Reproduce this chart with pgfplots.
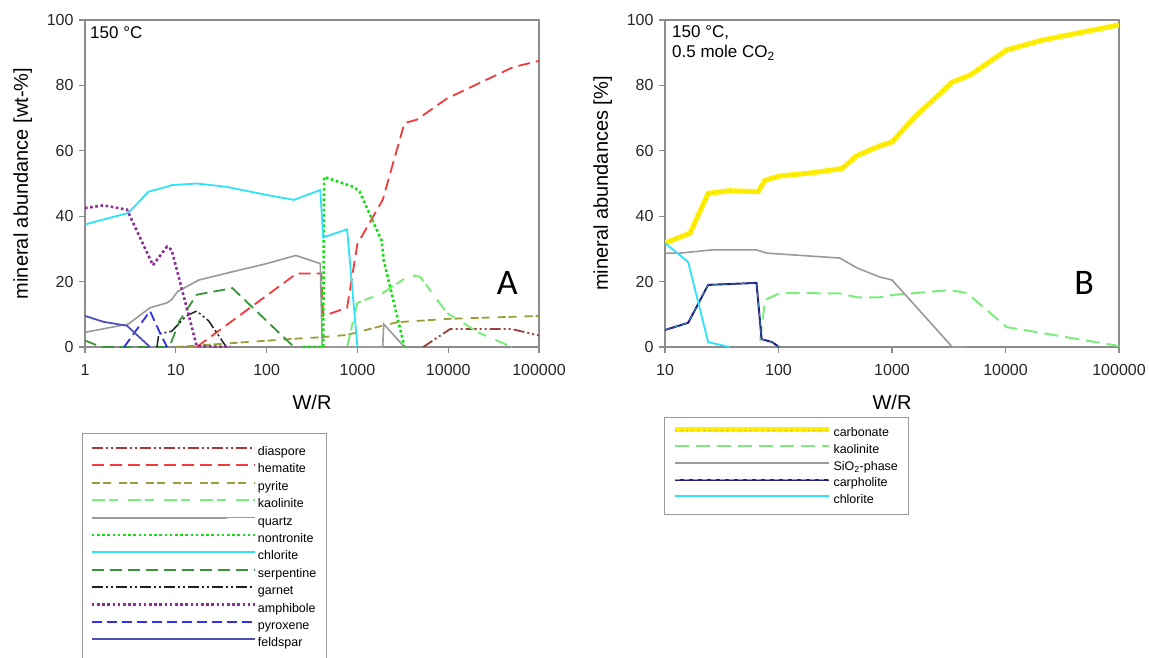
\documentclass[border=0pt]{standalone}
\usepackage{fontspec}
\setmainfont{Liberation Sans}
\newfontfamily\panelfont{Carlito}
\usepackage{pgfplots}
\pgfplotsset{compat=1.18}

\definecolor{cdiaspore}{HTML}{A03C3C}
\definecolor{chematite}{HTML}{F03C3C}
\definecolor{cpyrite}{HTML}{9C9C3A}
\definecolor{ckaolinite}{HTML}{7CEC7C}
\definecolor{cquartz}{HTML}{999999}
\definecolor{cnontronite}{HTML}{10E010}
\definecolor{cchlorite}{HTML}{30E2F8}
\definecolor{cserpentine}{HTML}{389438}
\definecolor{cgarnet}{HTML}{202020}
\definecolor{camphibole}{HTML}{8E2C98}
\definecolor{cpyroxene}{HTML}{3030F0}
\definecolor{cfeldspar}{HTML}{5050B8}
\definecolor{ccarbonate}{HTML}{FFEE00}
\definecolor{ccarpholite}{HTML}{20207E}

\tikzset{dashdotdot/.style={dash pattern=on 11pt off 3pt on 2pt off 3pt on 2pt off 3pt}}

\pgfplotsset{
  every axis/.append style={
    scale only axis, width=454pt, height=327pt,
    xmode=log, xmax=100000, ymin=0, ymax=100,
    ytick={0,20,40,60,80,100},
    xminorticks=false,
    xtick pos=bottom, ytick pos=left,
    axis line style={draw=gray!90, line width=1.6pt},
    tick style={draw=gray!90, line width=1.2pt},
    tick align=outside, major tick length=6pt,
    ticklabel style={font=\fontsize{16}{18}\selectfont, text=black!85},
    xticklabel style={yshift=-8pt},
    yticklabel style={xshift=-2pt},
    /pgf/number format/assume math mode=true,
    label style={font=\fontsize{20}{22}\selectfont},
    xlabel={W/R},
    legend cell align=left,
  },
  every axis x label/.style={at={(axis description cs:0.5,-0.168)}, anchor=center},
  every axis y label/.style={at={(axis description cs:-0.137,0.5)}, anchor=center, rotate=90},
}

\begin{document}
\begin{tikzpicture}
\useasboundingbox (0,0) rectangle (1149pt,657pt);

% ---------------- panel A ----------------
\begin{axis}[at={(85pt,310pt)}, anchor=south west,
  xmin=1,
  xtick={1,10,100,1000,10000,100000},
  xticklabels={1,10,100,1000,10000,100000},
  ylabel={mineral abundance [wt-\%]},
  legend style={at={(axis description cs:-0.0066,-0.263)}, anchor=north west,
    draw=gray!80, line width=0.8pt, font=\fontsize{12.5}{14}\selectfont,
    inner xsep=8pt, inner ysep=10pt, row sep=2.4pt,
    nodes={text height=12pt, text depth=3pt, inner ysep=0pt}},
  legend image code/.code={\draw[line width=2pt,#1] (0pt,3pt) -- (135pt,3pt); \path (0pt,3pt) -- (163pt,3pt);},
]
\addplot[cdiaspore, line width=1.8pt, dashdotdot] coordinates {
  (5300,0) (10500,5.5) (50000,5.5) (100000,3.5)};
\addlegendentry{diaspore}
\addplot[chematite, line width=1.8pt, dash pattern=on 12pt off 6pt] coordinates {
  (17,0) (215,22.5) (400,22.5) (420,9.5) (770,12) (1000,31.5) (1900,45)
  (3300,68.5) (4500,69.5) (9700,76) (22000,80.7) (52000,85.6) (100000,87.5)};
\addlegendentry{hematite}
\addplot[cpyrite, line width=1.8pt, dash pattern=on 8pt off 3pt on 8pt off 8pt] coordinates {
  (10,0) (110,2) (195,2.5) (400,3) (770,3.7) (2000,6.7) (2800,7.6) (10000,8.6) (100000,9.5)};
\addlegendentry{pyrite}
\addplot[ckaolinite, line width=2pt, dash pattern=on 13pt off 4pt on 9pt off 10pt] coordinates {
  (770,0) (1000,13.5) (1900,16.5) (3800,22) (4900,21.5) (9700,10.4) (22000,4.3) (50000,0)};
\addlegendentry{kaolinite}
\addplot[cquartz, line width=1.6pt] coordinates {
  (1,4.5) (3,7) (5.2,12) (8,13.5) (9,14.5) (10.5,17) (18,20.5) (42,23) (100,25.5)
  (210,28) (390,25.5) (410,0) (1900,0) (1950,7) (3300,0)};
\addlegendentry{quartz}
\addplot[cnontronite, line width=2.6pt, dash pattern=on 2.6pt off 2.6pt] coordinates {
  (250,0) (420,0) (430,52) (900,49) (1060,47.5) (1850,32.5) (1950,26.5) (3300,0)};
\addlegendentry{nontronite}
\addplot[cchlorite, line width=1.8pt] coordinates {
  (1,37.5) (3,41) (5,47.5) (8,49) (9,49.5) (17,50) (36,49) (100,46.5) (200,45)
  (390,48) (420,33.5) (770,36) (1000,0)};
\addlegendentry{chlorite}
\addplot[cserpentine, line width=1.8pt, dash pattern=on 12pt off 6pt] coordinates {
  (1,2) (1.5,0) (8.5,0) (11,8) (17,16) (42,18) (200,0)};
\addlegendentry{serpentine}
\addplot[cgarnet, line width=1.5pt, dashdotdot] coordinates {
  (6.2,0) (6.5,4) (9,4.8) (13,9.5) (17,11) (23,8) (36,0)};
\addlegendentry{garnet}
\addplot[camphibole, line width=2.6pt, dash pattern=on 2.6pt off 2.6pt] coordinates {
  (1,42.5) (1.6,43.3) (2.9,42) (5.6,25) (8,30.7) (9,29.7) (17,0.3) (40,0)};
\addlegendentry{amphibole}
\addplot[cpyroxene, line width=1.8pt, dash pattern=on 10pt off 5pt] coordinates {
  (2.7,0) (5.2,11) (6.7,4.3) (8,0)};
\addlegendentry{pyroxene}
\addplot[cfeldspar, line width=1.8pt] coordinates {
  (1,9.5) (1.6,7.7) (2.9,6.5) (5.2,0)};
\addlegendentry{feldspar}

\node[anchor=west, inner sep=0pt, font=\fontsize{17}{19}\selectfont]
  at (axis description cs:0.011,0.96) {150 °C};
\node[font=\panelfont\fontsize{36}{40}\selectfont]
  at (axis description cs:0.930,0.196) {A};
\end{axis}

% ---------------- panel B ----------------
\begin{axis}[at={(665pt,310pt)}, anchor=south west,
  xmin=10,
  xtick={10,100,1000,10000,100000},
  xticklabels={10,100,1000,10000,100000},
  ylabel={mineral abundances [\%]},
  legend style={at={(axis description cs:-0.002,-0.214)}, anchor=north west,
    draw=gray!80, line width=0.8pt, font=\fontsize{12.5}{14}\selectfont,
    inner xsep=8pt, inner ysep=8.5pt, row sep=2.6pt,
    nodes={text height=11pt, text depth=3pt, inner ysep=0pt}},
  legend image code/.code={\draw[line width=2pt,#1] (0pt,3pt) -- (130pt,3pt); \path (0pt,3pt) -- (154pt,3pt);},
]
\addplot[ccarbonate, line width=5pt,
  postaction={draw=ccarbonate!70!black, line width=0.5pt, dash pattern=on 0.8pt off 5pt}] coordinates {
  (10,31.8) (16.6,34.8) (24,47) (37,47.8) (66,47.5) (76,51) (103,52.3) (202,53.3)
  (363,54.6) (490,58.5) (780,61.5) (1000,62.7) (1590,70.4) (3400,81) (4900,83.2)
  (10200,90.8) (21400,93.9) (100000,98.5)};
\addlegendentry{carbonate}
\addplot[ckaolinite, line width=2pt, dash pattern=on 14pt off 7pt] coordinates {
  (69,2) (76,14.4) (103,16.5) (347,16.4) (490,15.2) (780,15.2) (1000,15.9)
  (3240,17.4) (4570,16.5) (10200,6.1) (100000,0.3)};
\addlegendentry{kaolinite}
\addplot[cquartz, line width=1.6pt] coordinates {
  (10,28.7) (13.5,28.7) (26,29.7) (64,29.7) (79,28.7) (347,27.2) (490,24.2)
  (780,21.4) (1000,20.5) (3400,0) (4500,0)};
\addlegendentry{SiO\textsubscript{2}-phase}
\addplot[ccarpholite, line width=2pt,
  postaction={draw=cchlorite!60!gray, line width=0.5pt, dash pattern=on 5pt off 4pt}] coordinates {
  (10,5.2) (16,7.4) (24,19) (64,19.6) (71,2.4) (88,1.5) (101,0)};
\addlegendentry{carpholite}
\addplot[cchlorite, line width=1.8pt] coordinates {
  (10,31.8) (16,26) (24,1.5) (37,0)};
\addlegendentry{chlorite}

\node[anchor=west, inner sep=0pt, font=\fontsize{17}{19}\selectfont]
  at (axis description cs:0.0154,0.96) {150 °C,};
\node[anchor=west, inner sep=0pt, font=\fontsize{17}{19}\selectfont]
  at (axis description cs:0.0154,0.899) {0.5 mole CO\textsubscript{2}};
\node[font=\panelfont\fontsize{36}{40}\selectfont]
  at (axis description cs:0.923,0.196) {B};
\end{axis}
\end{tikzpicture}
\end{document}
